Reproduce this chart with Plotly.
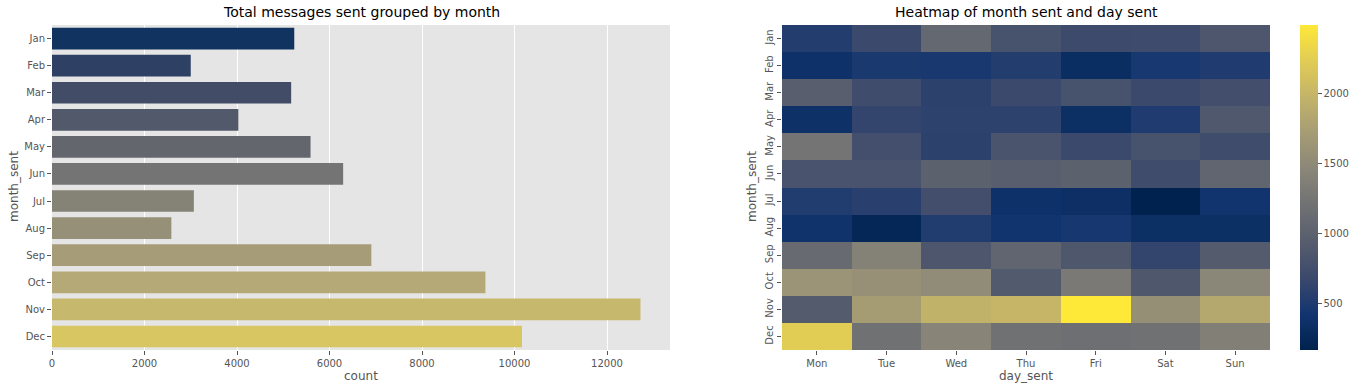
import plotly.graph_objects as go

months = ["Jan", "Feb", "Mar", "Apr", "May", "Jun", "Jul", "Aug", "Sep", "Oct", "Nov", "Dec"]
days = ["Mon", "Tue", "Wed", "Thu", "Fri", "Sat", "Sun"]
counts = [5238, 3000, 5171, 4029, 5590, 6295, 3067, 2581, 6905, 9371, 12724, 10162]
bar_colors = ["#11335f", "#2e4063", "#424c67", "#52596a", "#64666e", "#747474",
              "#858276", "#969079", "#a69d78", "#b5a977", "#c6b86d", "#d8c662"]

heat = [
    [530, 690, 1080, 800, 700, 710, 850],
    [380, 480, 470, 530, 320, 460, 510],
    [950, 720, 590, 690, 800, 690, 750],
    [370, 640, 600, 600, 340, 510, 880],
    [1240, 760, 590, 830, 680, 800, 730],
    [820, 820, 990, 950, 990, 720, 1050],
    [520, 570, 750, 380, 350, 170, 420],
    [400, 240, 520, 420, 450, 340, 340],
    [1110, 1400, 850, 1040, 870, 640, 920],
    [1620, 1580, 1530, 900, 1300, 870, 1470],
    [920, 1720, 1960, 2000, 2490, 1560, 1850],
    [2240, 1200, 1440, 1200, 1180, 1200, 1380],
]

W, H = 1355, 391
FONT = "DejaVu Sans"
TICKC = "#555555"

def px_x(p):
    return p / W

def px_y(p):
    return 1 - p / H

fig = go.Figure()

fig.add_trace(go.Bar(
    x=counts, y=months, orientation="h",
    marker=dict(color=bar_colors, line=dict(width=0)),
    width=0.8, xaxis="x", yaxis="y", showlegend=False,
))

fig.add_trace(go.Heatmap(
    z=heat, x=days, y=months, xaxis="x2", yaxis="y2",
    colorscale="Cividis", showscale=True,
    colorbar=dict(
        x=px_x(1300), xanchor="left", xref="paper", xpad=0, ypad=0,
        y=px_y(350), yanchor="bottom", len=(350 - 25) / H, lenmode="fraction",
        thickness=18, outlinewidth=0,
        tickvals=[500, 1000, 1500, 2000], tickformat="d", ticks="outside", ticklen=4,
        tickcolor=TICKC, tickfont=dict(family=FONT, size=10, color=TICKC),
    ),
))

ydom = [px_y(350), px_y(25)]
axis_common = dict(
    ticks="outside", ticklen=4, tickcolor=TICKC,
    tickfont=dict(size=10, color=TICKC), zeroline=False, showline=False,
    automargin=False,
)

fig.update_layout(
    width=W, height=H,
    margin=dict(l=0, r=0, t=0, b=0, autoexpand=False),
    paper_bgcolor="white",
    font=dict(family=FONT, size=10, color=TICKC),
    xaxis=dict(
        domain=[px_x(52), px_x(670)], range=[0, 13362],
        tickvals=[0, 2000, 4000, 6000, 8000, 10000, 12000], tickformat="d",
        showgrid=True, gridcolor="white", gridwidth=1, anchor="y",
        **axis_common,
    ),
    yaxis=dict(
        domain=ydom, autorange="reversed", showgrid=False, anchor="x",
        **axis_common,
    ),
    xaxis2=dict(
        domain=[px_x(782), px_x(1270)], showgrid=False, anchor="y2",
        **axis_common,
    ),
    yaxis2=dict(
        domain=ydom, autorange="reversed", showgrid=False, tickangle=-90, anchor="x2",
        **axis_common,
    ),
    plot_bgcolor="#E5E5E5",
)

def ann(text, x, y, size, color, angle=0):
    fig.add_annotation(text=text, x=px_x(x), y=px_y(y), xref="paper", yref="paper",
                       showarrow=False, textangle=angle, xanchor="center", yanchor="middle",
                       font=dict(size=size, color=color, family=FONT))

ann("Total messages sent grouped by month", (52 + 670) / 2, 12, 14, "black")
ann("Heatmap of month sent and day sent", (782 + 1270) / 2, 12, 14, "black")
ann("count", (52 + 670) / 2, 376, 12, TICKC)
ann("day_sent", (782 + 1270) / 2, 376, 12, TICKC)
ann("month_sent", 14, 187, 12, TICKC, -90)
ann("month_sent", 752, 187, 12, TICKC, -90)

fig.write_html("out.html", config={"displayModeBar": False},
               post_script="document.body.style.margin='0';document.body.style.overflow='hidden';")
